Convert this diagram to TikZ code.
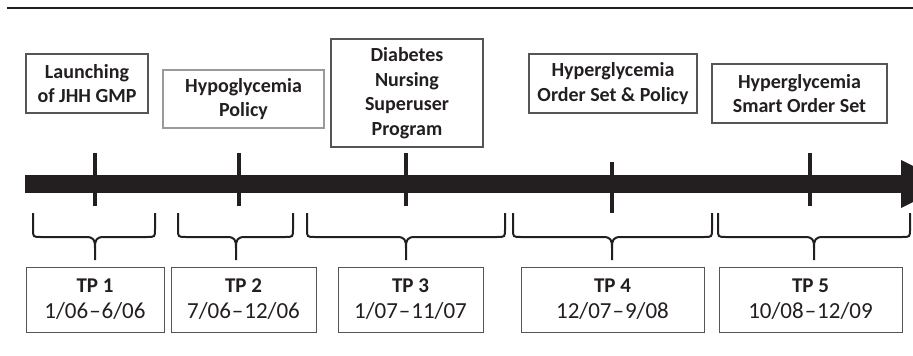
\documentclass[tikz,border=0pt]{standalone}
\usepackage{fontspec}
\setmainfont{Carlito}
\usepackage{tikz}
\usetikzlibrary{arrows.meta}
\usetikzlibrary{positioning}

\definecolor{ink}{HTML}{231F20}
\definecolor{frame}{HTML}{555555}
\definecolor{paleframe}{HTML}{9A9A9A}

% brace from x=#1 to x=#3 with its tip at x=#2
\newcommand{\tpbrace}[3]{%
  \draw[brace line] (#1,213) -- (#1,229) .. controls (#1,237) .. (#1+8,237)
    -- (#2-9,237) .. controls (#2-1,237) and (#2,240) .. (#2,248) -- (#2,260);
  \draw[brace line] (#3,213) -- (#3,229) .. controls (#3,237) .. (#3-8,237)
    -- (#2+9,237) .. controls (#2+1,237) and (#2,240) .. (#2,248);}
% period name and dates
\newcommand{\tplabel}[3]{{\fontsize{21}{26}\selectfont\bfseries TP #1}\\#2\kern1pt–\kern1pt#3}

\begin{document}
\begin{tikzpicture}[x=1pt,y=-1pt,
	event box/.style={draw=frame,line width=1.2pt,inner sep=0pt,align=center,
		text=ink,font=\fontsize{20}{24.5}\selectfont\bfseries},
	period box/.style={draw=frame,line width=1pt,inner sep=0pt,align=center,
		minimum height=65pt,text=ink,font=\fontsize{23}{26}\selectfont},
	tick/.style={draw=ink,line width=3.5pt},
	brace line/.style={draw=ink,line width=2pt}]
	
	\useasboundingbox (0,0) rectangle (913,356);
	
	% rule on top
	\draw[ink,line width=2.5pt] (7,8) -- (913,8);
	
	% time line
	\draw[ink,line width=18pt,-{Triangle[length=50pt,width=44pt]}] (25,184) -- (951,184);
	\draw[tick] (95,153) -- (95,206);
	\draw[tick] (239,153) -- (239,206);
	\draw[tick] (406,153) -- (406,206);
	\draw[tick] (612,162) -- (612,213);
	\draw[tick] (810,153) -- (810,206);
	
	% events
	\node[event box,minimum width=122pt,minimum height=59pt] (gmp) at (87,83.5) {Launching\\of JHH GMP};
	\node[event box,draw=paleframe,minimum width=161pt,minimum height=58pt] (hypo) at (243.5,99) {Hypoglycemia\\Policy};
	\node[event box,minimum width=152pt,minimum height=108pt] (super) at (407,93) {Diabetes\\Nursing\\Superuser\\Program};
	\node[event box,minimum width=168pt,minimum height=59pt] (order) at (613,83.5) {Hyperglycemia\\Order Set \& Policy};
	\node[event box,minimum width=175pt,minimum height=59pt] (smart) at (799.5,93.5) {Hyperglycemia\\Smart Order Set};
	
	% periods
	\tpbrace{33}{95}{155}
	\tpbrace{178}{236}{293}
	\tpbrace{307}{406}{505}
	\tpbrace{513}{612}{712}
	\tpbrace{718}{814}{910}
	
	\node[period box,minimum width=138pt] (tp1) at (95,299.5) {\tplabel{1}{1/06}{6/06}};
	\node[period box,minimum width=145pt] (tp2) at (243.5,299.5) {\tplabel{2}{7/06}{12/06}};
	\node[period box,minimum width=145pt] (tp3) at (410.5,299.5) {\tplabel{3}{1/07}{11/07}};
	\node[period box,minimum width=183pt] (tp4) at (612.5,299.5) {\tplabel{4}{12/07}{9/08}};
	\node[period box,minimum width=183pt] (tp5) at (810.5,299.5) {\tplabel{5}{10/08}{12/09}};
\end{tikzpicture}
\end{document}
